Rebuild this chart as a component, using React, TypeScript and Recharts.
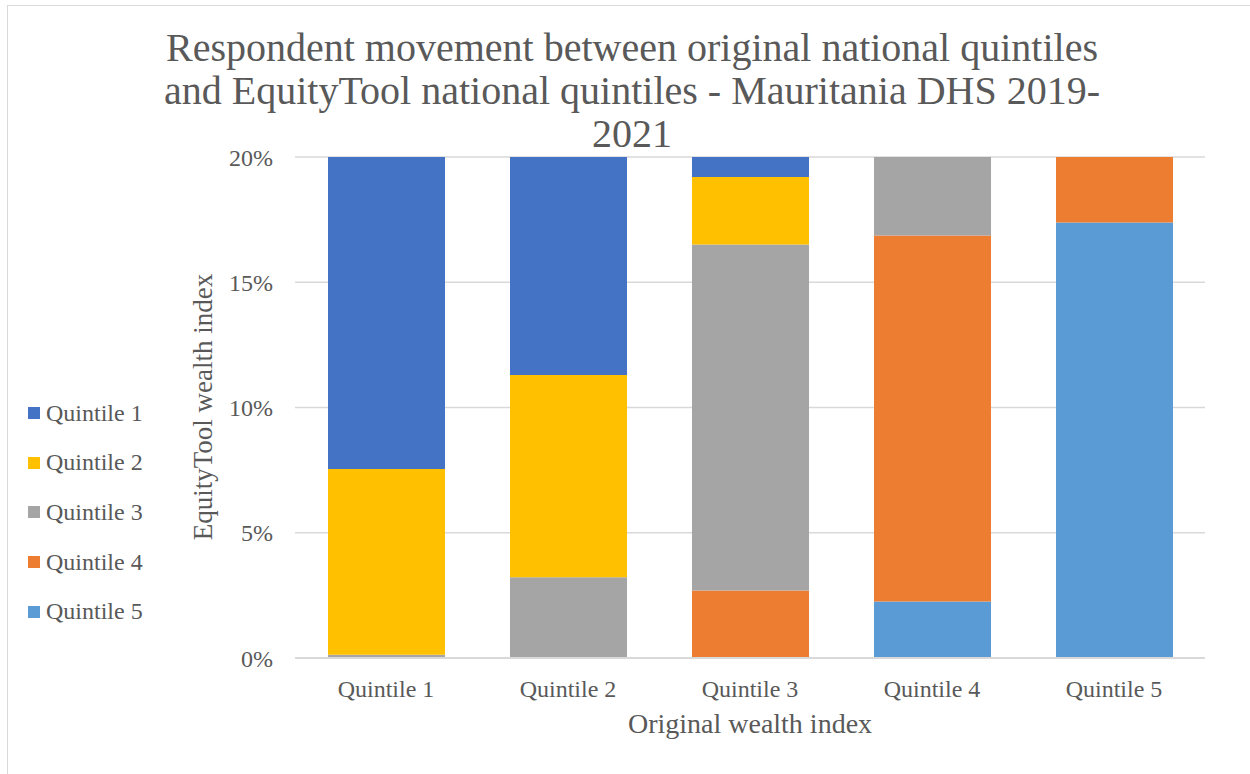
import React from 'react';
import { BarChart, Bar, XAxis, YAxis, CartesianGrid } from 'recharts';

// categories on the x axis (original wealth index)
const categories = ['Quintile 1', 'Quintile 2', 'Quintile 3', 'Quintile 4', 'Quintile 5'];

// share of respondents (%) per EquityTool quintile, one value per original quintile
const quintile1 = [12.46, 8.7, 0.8, 0, 0];
const quintile2 = [7.41, 8.08, 2.69, 0, 0];
const quintile3 = [0.13, 3.22, 13.82, 3.13, 0];
const quintile4 = [0, 0, 2.69, 14.61, 2.61];
const quintile5 = [0, 0, 0, 2.26, 17.39];

const yTicks = [0, 5, 10, 15, 20];

const titleLines = [
  'Respondent movement between original national quintiles',
  'and EquityTool national quintiles - Mauritania DHS 2019-',
  '2021',
];

// stacking order bottom -> top is Quintile 5 ... Quintile 1
const series = [
  { key: 'q5', name: 'Quintile 5', values: quintile5, color: '#5B9BD5' },
  { key: 'q4', name: 'Quintile 4', values: quintile4, color: '#ED7D31' },
  { key: 'q3', name: 'Quintile 3', values: quintile3, color: '#A5A5A5' },
  { key: 'q2', name: 'Quintile 2', values: quintile2, color: '#FFC000' },
  { key: 'q1', name: 'Quintile 1', values: quintile1, color: '#4472C4' },
];

const chartData = categories.map((name, i) => {
  const row: any = { name };
  series.forEach((s) => {
    row[s.key] = s.values[i];
  });
  return row;
});

const FONT = '"Liberation Serif", serif';
const TEXT = '#595959';

export default function App() {
  const legendItems = [...series].reverse();

  return (
    <div
      style={{
        position: 'absolute',
        left: 0,
        top: 0,
        width: 1250,
        height: 774,
        background: '#fff',
        overflow: 'hidden',
        fontFamily: FONT,
        color: TEXT,
      }}
    >
      <div
        style={{
          position: 'absolute',
          left: 7,
          top: 5,
          width: 1260,
          height: 790,
          border: '1px solid #d9d9d9',
          boxSizing: 'border-box',
        }}
      />

      {titleLines.map((line, i) => (
        <div
          key={i}
          style={{
            position: 'absolute',
            left: 0,
            width: 1264,
            top: 25 + i * 43,
            textAlign: 'center',
            fontSize: 40,
            lineHeight: '46px',
            whiteSpace: 'nowrap',
          }}
        >
          {line}
        </div>
      ))}

      <BarChart
        width={1250}
        height={774}
        data={chartData}
        margin={{ top: 157, right: 45, bottom: 86, left: 235 }}
        barSize={117}
        style={{ position: 'absolute', left: 0, top: 0 }}
      >
        <CartesianGrid vertical={false} stroke="#d9d9d9" strokeWidth={1.3} />
        <XAxis
          dataKey="name"
          height={30}
          axisLine={{ stroke: '#d9d9d9', strokeWidth: 2 }}
          tickLine={false}
          tickSize={0}
          tickMargin={22}
          tick={{ fill: TEXT, fontSize: 24, fontFamily: FONT }}
          interval={0}
        />
        <YAxis
          width={60}
          domain={[0, 20]}
          ticks={yTicks}
          allowDataOverflow
          axisLine={false}
          tickLine={false}
          tickSize={0}
          tickMargin={22}
          tickFormatter={(v: number) => `${v}%`}
          tick={{ fill: TEXT, fontSize: 24, fontFamily: FONT }}
        />
        {series.map((s) => (
          <Bar
            key={s.key}
            dataKey={s.key}
            name={s.name}
            stackId="a"
            fill={s.color}
            isAnimationActive={false}
          />
        ))}
      </BarChart>

      <div
        style={{
          position: 'absolute',
          left: 750 - 200,
          width: 400,
          top: 708,
          textAlign: 'center',
          fontSize: 28,
          lineHeight: '32px',
        }}
      >
        Original wealth index
      </div>

      <div
        style={{
          position: 'absolute',
          left: 203 - 200,
          top: 407 - 16,
          width: 400,
          textAlign: 'center',
          fontSize: 27,
          lineHeight: '32px',
          transform: 'rotate(-90deg)',
          whiteSpace: 'nowrap',
        }}
      >
        EquityTool wealth index
      </div>

      {legendItems.map((s, i) => (
        <div
          key={s.key}
          style={{
            position: 'absolute',
            left: 28,
            top: 413 - 15 + i * 49.7,
            height: 30,
            display: 'flex',
            alignItems: 'center',
            fontSize: 24,
            whiteSpace: 'nowrap',
          }}
        >
          <span
            style={{
              display: 'inline-block',
              width: 12,
              height: 12,
              background: s.color,
              marginRight: 6,
            }}
          />
          {s.name}
        </div>
      ))}
    </div>
  );
}
